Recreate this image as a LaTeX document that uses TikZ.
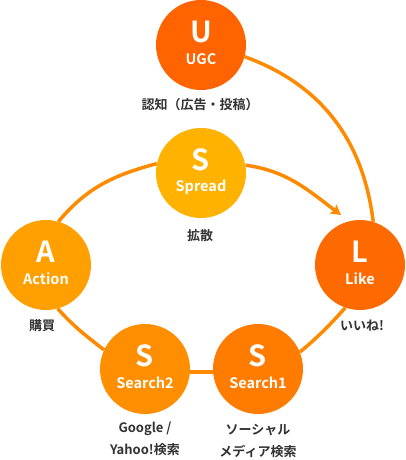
\documentclass[tikz,border=0pt]{standalone}
\usepackage{fontspec}
\setmainfont{Noto Sans CJK JP}[BoldFont={Noto Sans CJK JP Bold}]
\usetikzlibrary{arrows.meta}
\definecolor{cU}{HTML}{FF6400}
\definecolor{cL}{HTML}{FF6A00}
\definecolor{cSa}{HTML}{FF7C00}
\definecolor{cSb}{HTML}{FF8F00}
\definecolor{cA}{HTML}{FFA000}
\definecolor{cSp}{HTML}{FFB300}
\definecolor{cLine}{HTML}{FF8A00}
\definecolor{cTxt}{HTML}{333333}
\tikzset{
  stage/.style n args={3}{circle, minimum size=90pt, inner sep=0pt, fill=#1,
    label={[stletter]center:#2}, label={[stname]center:#3}},
  stletter/.style={text=white, font=\bfseries\fontsize{29}{29}\selectfont, inner sep=0pt, yshift=13pt},
  stname/.style={text=white, font=\bfseries\fontsize{14.5}{14.5}\selectfont, inner sep=0pt, yshift=-14pt},
  conn/.style={draw=cLine, line width=3.5pt},
  caption/.style={text=cTxt, font=\bfseries\fontsize{13}{21.5}\selectfont, align=center, inner sep=0pt}
}
\begin{document}
\begin{tikzpicture}[x=1pt,y=1pt]
\useasboundingbox (0,0) rectangle (406,460);
\node[stage={cU}{U}{UGC}]       (U)  at (201,415) {};
\node[stage={cSp}{S}{Spread}]   (Sp) at (201,287) {};
\node[stage={cA}{A}{Action}]    (A)  at (46,195)  {};
\node[stage={cL}{L}{Like}]      (L)  at (360,195) {};
\node[stage={cSb}{S}{Search2}]  (S2) at (145,91)  {};
\node[stage={cSa}{S}{Search1}]  (S1) at (258,91)  {};
\coordinate (tip) at (341,245);
\draw[conn] (U.-15) to[out=-20, in=97] (L.73);
\draw[conn, -{Stealth[length=10pt, width=11pt, inset=2pt]}] (Sp.10) to[out=-8, in=143] (tip);
\draw[conn] (A.74) to[out=50, in=195] (Sp.168);
\draw[conn] (A.-75) to[out=-48, in=142] (S2.155);
\draw[conn] (S2.-4) -- (S1.184);
\draw[conn] (S1.22) to[out=40, in=228] (L.-109);
\node[caption] (cu) at (200,355) {認知（広告・投稿）};
\node[caption] (csp) at (200,224) {拡散};
\node[caption] (ca) at (42,134) {購買};
\node[caption] (cl) at (362,134) {いいね!};
\node[caption] (cs2) at (145,21) {Google /\\Yahoo!検索};
\node[caption] (cs1) at (258,19) {ソーシャル\\メディア検索};
\end{tikzpicture}
\end{document}
